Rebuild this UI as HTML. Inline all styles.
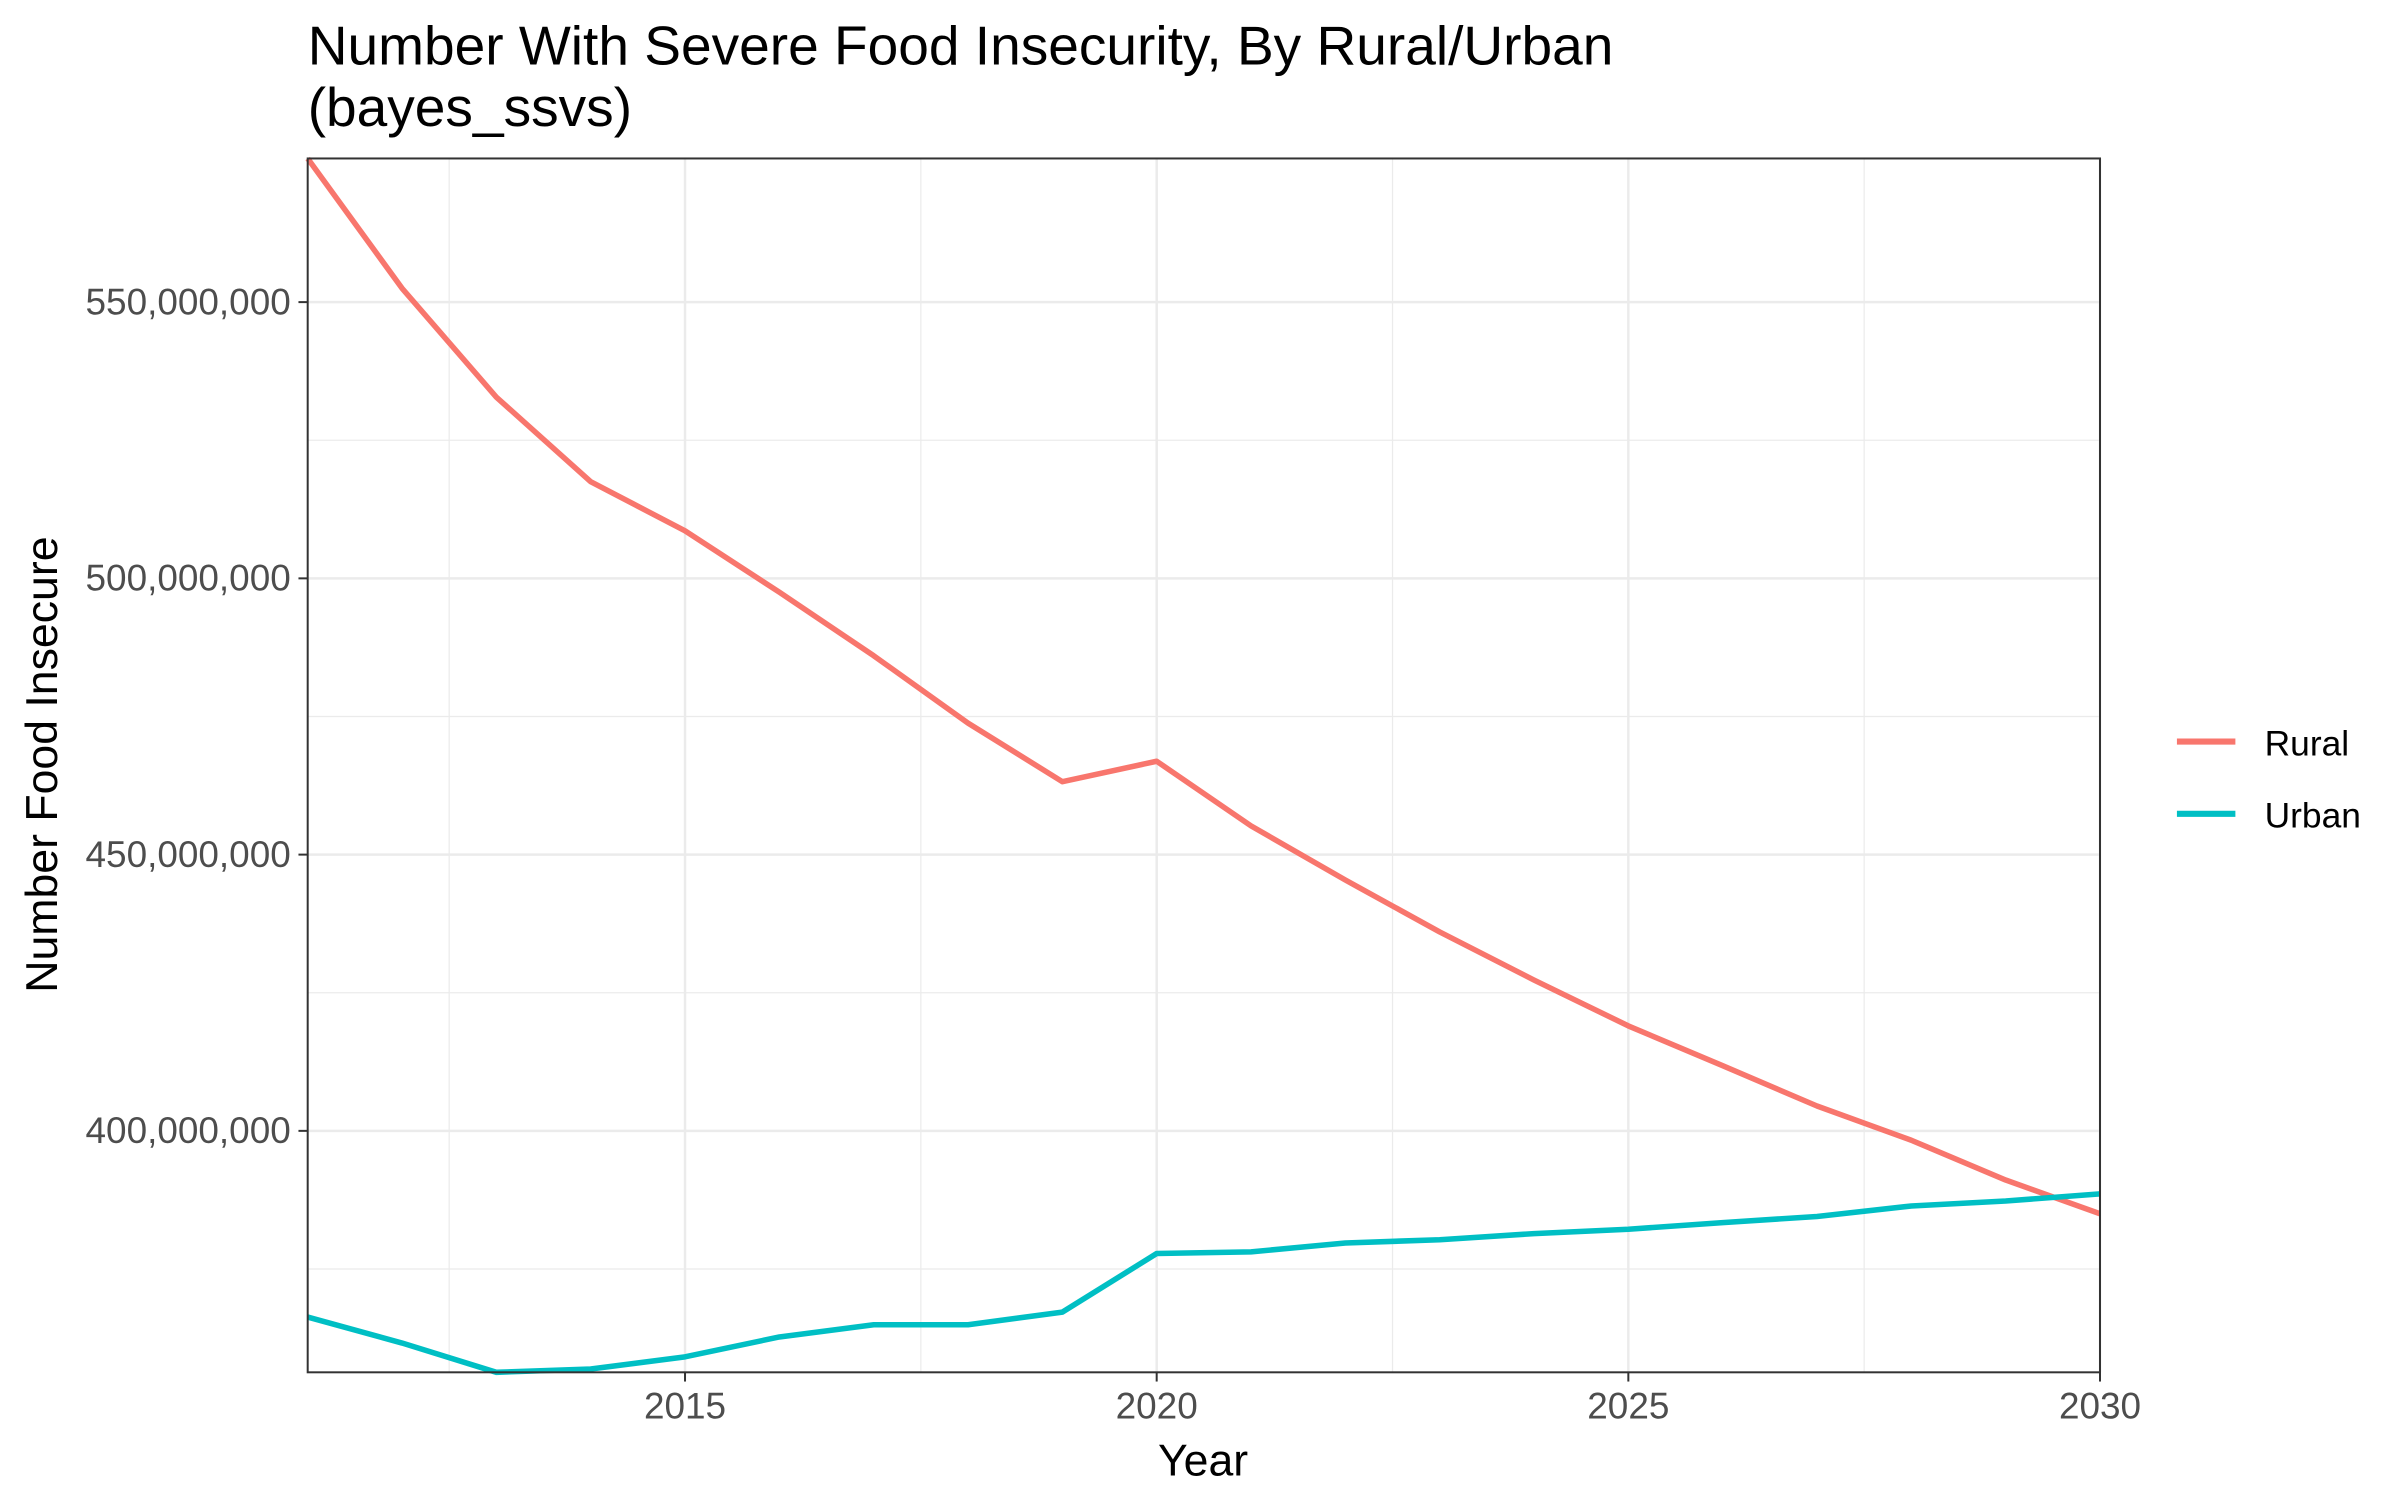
<!DOCTYPE html>
<html><head><meta charset="utf-8"><style>
html,body{margin:0;padding:0;background:#fff;}
svg{display:block;font-family:"Liberation Sans",Arial,sans-serif;}
</style></head><body>
<svg id="chart" width="2400" height="1500" viewBox="0 0 1560 975" xmlns="http://www.w3.org/2000/svg">
<rect width="1560" height="975" fill="#fff"/>
<text x="200" y="42" font-size="35.8" fill="#000">Number With Severe Food Insecurity, By Rural/Urban</text>
<text x="200" y="82" font-size="35.8" fill="#000">(bayes_ssvs)</text>
<g id="grid"></g>
<g id="series"></g>
<rect x="200" y="103" width="1165" height="789" fill="none" stroke="#333" stroke-width="1.3"/>
<g id="axes"></g>
<text x="782" y="959" font-size="29" text-anchor="middle">Year</text>
<text transform="translate(37,497) rotate(-90)" font-size="29" text-anchor="middle">Number Food Insecure</text>
<g>
<line x1="1415" y1="482" x2="1453" y2="482" stroke="#F8766D" stroke-width="4"/>
<text x="1472" y="491" font-size="23">Rural</text>
<line x1="1415" y1="529" x2="1453" y2="529" stroke="#00BFC4" stroke-width="4"/>
<text x="1472" y="538" font-size="23">Urban</text>
</g>
</svg>
<script>
const years=[2011,2012,2013,2014,2015,2016,2017,2018,2019,2020,2021,2022,2023,2024,2025,2026,2027,2028,2029,2030];
const rural=[576,552.5,532.8,517.5,508.6,497.5,486,473.8,463.2,466.9,455.2,445.4,436,427.3,419,411.8,404.5,398.3,391.1,385];
const urban=[366.3,361.6,356.3,356.9,359.1,362.7,364.9,364.9,367.2,377.8,378.1,379.7,380.3,381.4,382.2,383.4,384.5,386.4,387.3,388.6];
const xTicks=[2015,2020,2025,2030];
const xMinor=[2012.5,2017.5,2022.5,2027.5];
const yTicks=[400,450,500,550];
const yMinor=[375,425,475,525];
const yTickLabels=["400,000,000","450,000,000","500,000,000","550,000,000"];
const NS="http://www.w3.org/2000/svg";
const L=200,R=1365,T=103,B=892;
const x=v=>L+(v-2011)/(2030-2011)*(R-L);
const y=v=>B-(v-356.3)/(576-356.3)*(B-T);
function mk(tag,attrs,parent){const e=document.createElementNS(NS,tag);for(const k in attrs)e.setAttribute(k,attrs[k]);parent.appendChild(e);return e;}
const grid=document.getElementById('grid'),axes=document.getElementById('axes'),ser=document.getElementById('series');
xMinor.forEach(v=>{const e=mk('line',{x1:x(v),x2:x(v),y1:T,y2:B,stroke:'#ebebeb','stroke-width':0.8},grid);

});
yMinor.forEach(v=>{const e=mk('line',{x1:L,x2:R,y1:y(v),y2:y(v),stroke:'#ebebeb','stroke-width':0.8},grid);

});
xTicks.forEach(v=>{const e=mk('line',{x1:x(v),x2:x(v),y1:T,y2:B,stroke:'#ebebeb','stroke-width':1.6},grid);


const t=mk('line',{x1:x(v),x2:x(v),y1:B,y2:B+6,stroke:'#333','stroke-width':1.3},axes);


const l=mk('text',{x:x(v),y:B+30,'font-size':24,fill:'#4d4d4d','text-anchor':'middle'},axes);l.textContent=v;

});
yTicks.forEach((v,i)=>{const e=mk('line',{x1:L,x2:R,y1:y(v),y2:y(v),stroke:'#ebebeb','stroke-width':1.6},grid);


const t=mk('line',{x1:L-6,x2:L,y1:y(v),y2:y(v),stroke:'#333','stroke-width':1.3},axes);


const l=mk('text',{x:L-11,y:y(v)+8,'font-size':24,fill:'#4d4d4d','text-anchor':'end'},axes);l.textContent=yTickLabels[i];

});
function line(vals,color,name){const p=mk('polyline',{points:vals.map((v,i)=>x(years[i])+','+y(v)).join(' '),fill:'none',stroke:color,'stroke-width':3.6,'stroke-linejoin':'round'},ser);

}
line(rural,'#F8766D','rural-line');
line(urban,'#00BFC4','urban-line');
</script>
</body></html>
